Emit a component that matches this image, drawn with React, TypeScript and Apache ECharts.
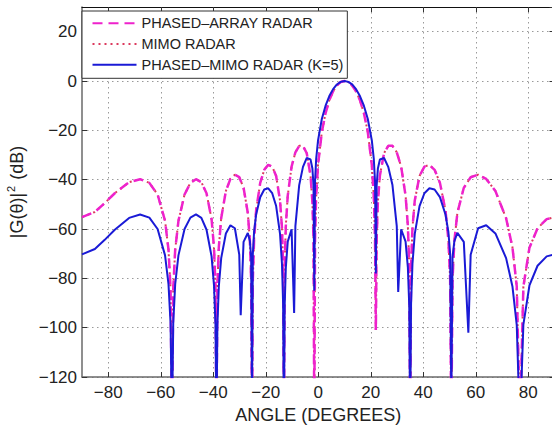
import React, { useEffect, useRef } from 'react';
import * as echarts from 'echarts';

// ---- tick labels ----
const xTickValues = [-80, -60, -40, -20, 0, 20, 40, 60, 80];

// ---- series names ----
const seriesNames = ['PHASED\u2013ARRAY RADAR', 'MIMO RADAR', 'PHASED\u2013MIMO RADAR (K=5)'];

// ---- phased-array radar (angle in degrees, gain in dB) ----
const paAngles = [-90, -85.1, -81.44, -77.51, -72.05, -67.87, -64.34, -61.2, -58.36, -57.05, -56.26, -55.73, -55.24, -54.5, -53.26, -50.93, -48.7, -46.58, -44.53, -42.56, -40.64, -39.71, -39.15, -38.78, -38.42, -37.88, -36.97, -35.19, -33.46, -31.76, -30.09, -28.45, -26.83, -26.04, -25.56, -25.24, -24.92, -24.45, -23.66, -22.11, -20.57, -19.05, -17.54, -16.04, -14.56, -13.82, -13.38, -13.08, -12.79, -12.35, -11.62, -10.16, -8.71, -7.26, -5.82, -4.38, -2.94, -2.23, -1.8, -1.51, -1.22, -0.8, -0.08, 1.36, 2.79, 4.22, 5.66, 7.1, 8.55, 10, 11.46, 12.92, 14.4, 15.88, 17.38, 18.88, 20.41, 21.17, 21.63, 21.94, 22.25, 22.72, 23.49, 25.07, 26.66, 28.27, 29.91, 31.58, 33.27, 34.14, 34.66, 35.01, 35.36, 35.89, 36.77, 38.58, 40.44, 42.35, 44.32, 46.36, 48.47, 49.58, 50.25, 50.69, 51.15, 51.85, 53, 55.45, 58.06, 60.89, 63.98, 67.49, 71.56, 73.98, 75.62, 76.82, 78.14, 80.45, 83.54, 87.02, 90];
const paGain = [-55.2, -53.1, -49.6, -45.5, -41.0, -39.8, -41.3, -46.0, -56.7, -68.4, -84.2, -140, -84.2, -68.4, -56.7, -46.0, -41.3, -39.8, -41.0, -45.5, -56.0, -67.6, -83.4, -140, -83.3, -67.4, -55.6, -44.6, -39.7, -38.0, -39.0, -43.3, -53.5, -64.9, -80.6, -140, -80.4, -64.4, -52.5, -41.3, -36.0, -34.0, -34.7, -38.5, -48.4, -59.6, -75.2, -140, -74.8, -58.7, -46.5, -34.7, -28.9, -26.3, -26.3, -29.3, -38.3, -49.0, -64.2, -140, -63.4, -46.9, -34.0, -20.7, -13.0, -7.8, -4.2, -1.8, -0.4, 0, -0.4, -1.8, -4.2, -7.8, -13.0, -20.7, -34.0, -46.9, -63.4, -101, -64.2, -49.0, -38.3, -29.3, -26.3, -26.3, -28.9, -34.7, -46.5, -58.7, -74.8, -140, -75.2, -59.6, -48.4, -38.5, -34.7, -34.0, -36.0, -41.3, -52.5, -64.4, -80.4, -140, -80.6, -64.9, -53.5, -43.3, -39.0, -38.0, -39.7, -44.6, -55.6, -67.4, -83.3, -140, -83.4, -67.6, -59.7, -56.0, -55.2];

// ---- MIMO radar (coincides with the phased-array curve in the figure) ----
const mimoAngles = paAngles;
const mimoGain = paGain;

// ---- phased-MIMO radar, K=5 ----
const pmAngles = [-90, -85.1, -81.44, -77.51, -72.05, -67.87, -64.34, -61.2, -58.36, -57.05, -56.26, -55.73, -55.24, -54.5, -53.26, -50.93, -48.7, -46.58, -44.53, -42.56, -40.64, -39.71, -39.15, -38.78, -38.42, -37.88, -36.97, -35.19, -33.46, -31.76, -30.09, -29.54, -28.45, -26.83, -26.04, -25.56, -25.24, -24.92, -24.45, -23.66, -22.11, -20.57, -19.05, -17.54, -16.04, -14.56, -13.82, -13.38, -13.08, -12.79, -12.35, -11.62, -10.16, -9.19, -8.71, -7.26, -5.82, -4.38, -2.94, -2.23, -1.8, -1.51, -1.22, -0.8, -0.08, 1.36, 2.79, 4.22, 5.66, 7.1, 8.55, 10, 11.46, 12.92, 14.4, 15.88, 17.38, 18.88, 20.41, 21.17, 21.63, 21.94, 22.25, 22.72, 23.49, 25.07, 26.66, 28.27, 29.91, 30.46, 31.58, 33.27, 34.14, 34.66, 35.01, 35.36, 35.89, 36.77, 38.58, 40.44, 42.35, 44.32, 46.36, 48.47, 49.58, 50.25, 50.69, 51.15, 51.85, 53, 55.45, 57.18, 58.06, 60.89, 63.98, 67.49, 71.56, 73.98, 75.62, 76.82, 78.14, 80.45, 83.54, 87.02, 90];
const pmGain = [-70.3, -68.1, -64.5, -60.3, -55.5, -54.1, -55.4, -60.0, -70.7, -82.4, -98.2, -140, -98.2, -82.4, -70.7, -60.0, -55.4, -54.1, -55.5, -60.3, -71.1, -82.9, -98.8, -140, -99.0, -83.3, -71.8, -61.8, -58.5, -59.7, -70.4, -95, -65.2, -61.6, -64.9, -71.5, -130, -70.1, -61.2, -54.1, -47.1, -44.0, -43.5, -45.5, -50.7, -62.0, -74.1, -90.3, -140, -90.9, -75.6, -65.1, -60.1, -94, -58.8, -42.2, -34.8, -31.2, -31.8, -35.5, -42.3, -85, -40.7, -31.7, -24.1, -15.4, -10.0, -6.1, -3.3, -1.4, -0.35, 0, -0.35, -1.4, -3.3, -6.1, -10.0, -15.4, -24.1, -31.7, -40.7, -78, -42.3, -35.5, -31.8, -31.2, -34.8, -42.2, -58.8, -85.5, -60.1, -65.1, -75.6, -90.9, -140, -90.3, -74.1, -62.0, -50.7, -45.5, -43.5, -44.0, -47.1, -54.1, -61.2, -70.1, -130, -71.5, -64.9, -61.6, -65.2, -102, -70.4, -59.7, -58.5, -61.8, -71.8, -83.3, -99.0, -140, -98.8, -82.9, -74.9, -71.1, -70.3];

const FONT = "'Liberation Sans', Arial, Helvetica, sans-serif";
const minusFmt = (v: number) => String(v).replace('-', '\u2212');
const pair = (xs: number[], ys: number[]) => xs.map((x, i) => [x, ys[i]]);

export default function App() {
  const ref = useRef<HTMLDivElement>(null);

  useEffect(() => {
    if (!ref.current) return;
    const chart = echarts.init(ref.current, null, { renderer: 'svg' });

    const gridLine = { show: true, lineStyle: { color: '#9a9a9a', type: [1.5, 3.5], width: 1 } };
    const tickStyle = { color: '#333', width: 1 };

    const option: any = {
      animation: false,
      backgroundColor: '#ffffff',
      grid: { left: 82, right: -2.5, top: 7, bottom: 49, containLabel: false, outerBoundsMode: 'none' },
      legend: {
        orient: 'vertical',
        left: 82,
        top: 11,
        padding: [4.7, 4, 6, 9.5],
        itemWidth: 44,
        itemHeight: 14,
        itemGap: 5.8,
        backgroundColor: '#ffffff',
        borderColor: '#333',
        borderWidth: 1,
        borderRadius: 0,
        itemStyle: { opacity: 0, borderWidth: 0 },
        textStyle: { fontFamily: FONT, fontSize: 14.5, color: '#222', lineHeight: 14 },
        data: seriesNames,
      },
      xAxis: [
        {
          type: 'value',
          min: -90,
          max: 90,
          position: 'bottom',
          axisLine: { show: true, onZero: false, lineStyle: { color: '#6a6a6a', width: 1.5 } },
          axisTick: { show: true, inside: true, length: 5, customValues: xTickValues, lineStyle: tickStyle },
          axisLabel: { customValues: xTickValues, formatter: minusFmt, fontFamily: FONT, fontSize: 17, color: '#222', margin: 7 },
          splitLine: gridLine,
          name: 'ANGLE (DEGREES)',
          nameLocation: 'middle',
          nameGap: 27,
          nameTextStyle: { fontFamily: FONT, fontSize: 18, color: '#222' },
        },
        {
          type: 'value',
          min: -90,
          max: 90,
          position: 'top',
          axisLine: { show: true, onZero: false, lineStyle: { color: '#111', width: 1.2 } },
          axisTick: { show: true, inside: true, length: 5, customValues: xTickValues, lineStyle: tickStyle },
          axisLabel: { show: false },
          splitLine: { show: false },
        },
      ],
      yAxis: [
        {
          type: 'value',
          min: -120,
          max: 30,
          interval: 20,
          position: 'left',
          axisLine: { show: true, onZero: false, lineStyle: { color: '#6a6a6a', width: 1.5 } },
          axisTick: { show: true, inside: true, length: 5, lineStyle: tickStyle },
          axisLabel: { showMaxLabel: false, formatter: minusFmt, fontFamily: FONT, fontSize: 17, color: '#222', margin: 5 },
          splitLine: gridLine,
          name: '|G(\u03b8)|{sup|2} (dB)',
          nameLocation: 'middle',
          nameGap: 42,
          nameTextStyle: {
            fontFamily: FONT,
            fontSize: 18,
            color: '#222',
            lineHeight: 22,
            rich: { sup: { fontFamily: FONT, fontSize: 11, color: '#222', lineHeight: 22, verticalAlign: 'top', padding: [0, 1, 9, 1] } },
          },
        },
        {
          type: 'value',
          min: -120,
          max: 30,
          interval: 20,
          position: 'right',
          axisLine: { show: true, onZero: false, lineStyle: { color: '#111', width: 1.2 } },
          axisTick: { show: true, inside: true, length: 5, lineStyle: tickStyle },
          axisLabel: { show: false },
          splitLine: { show: false },
        },
      ],
      series: [
        {
          name: seriesNames[1],
          type: 'line',
          data: pair(mimoAngles, mimoGain),
          showSymbol: false,
          symbol: 'none',
          clip: true,
          z: 2,
          lineStyle: { color: '#dc3a5e', width: 2, type: [2, 4] },
          itemStyle: { color: '#dc3a5e' },
        },
        {
          name: seriesNames[0],
          type: 'line',
          data: pair(paAngles, paGain),
          showSymbol: false,
          symbol: 'none',
          clip: true,
          z: 3,
          lineStyle: { color: '#ee22cc', width: 2.5, type: [10, 6] },
          itemStyle: { color: '#ee22cc' },
        },
        {
          name: seriesNames[2],
          type: 'line',
          data: pair(pmAngles, pmGain),
          showSymbol: false,
          symbol: 'none',
          clip: true,
          z: 4,
          lineStyle: { color: '#1a1ad6', width: 2 },
          itemStyle: { color: '#1a1ad6' },
        },
      ],
    };

    chart.setOption(option);
    return () => chart.dispose();
  }, []);

  return <div ref={ref} style={{ position: 'fixed', left: 0, top: 0, width: 552, height: 426 }} />;
}
